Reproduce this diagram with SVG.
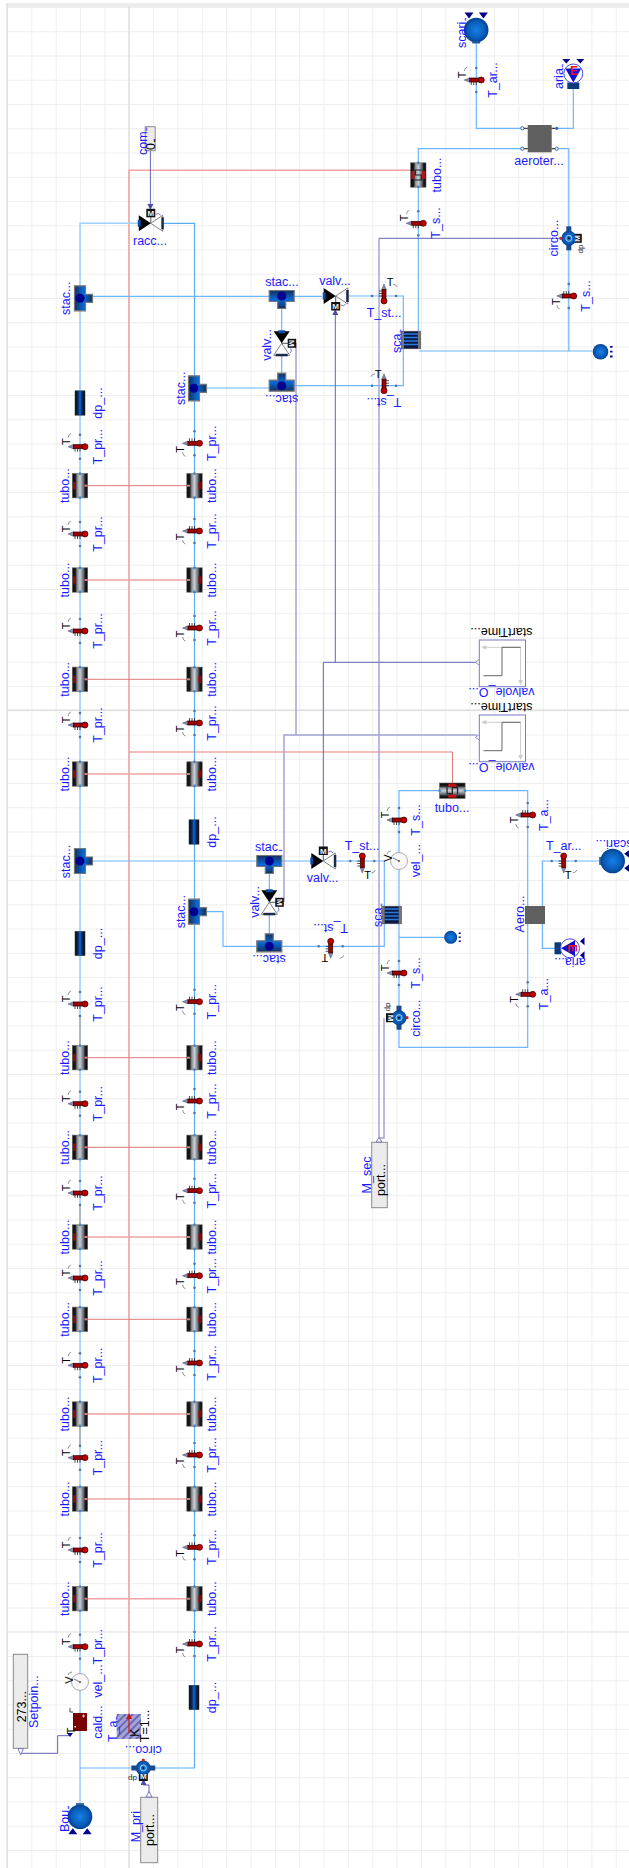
<svg xmlns="http://www.w3.org/2000/svg" width="629" height="1868" viewBox="0 0 629 1868">
<style>
text{font-family:"Liberation Sans",Arial,sans-serif;text-anchor:middle;dominant-baseline:central}
.l{font-size:12.5px;fill:#1a1aff}
.s{text-anchor:start}
.q{letter-spacing:-1.800px;font-size:10px}
.k{font-size:12.5px;fill:#000}
.t{font-size:11px;fill:#000}
.m{font-size:8px;font-weight:bold;fill:#eee}
.d{font-size:8px;fill:#223}
.w,.wl,.wr,.r,.rl,.p,.pl,.g{fill:none}
.w{stroke:#6cb6ff;stroke-width:1.2}
.wl{stroke:#a2d0ff;stroke-width:1.6}
.wr{stroke:#5aabf2;stroke-width:1.2}
.r{stroke:#e27a7a;stroke-width:1}
.rl{stroke:#f0a4a4;stroke-width:1.5}
.p{stroke:#6464b4;stroke-width:1}
.pl{stroke:#a4a4d4;stroke-width:1.5}
.g{stroke:#aaa;stroke-width:1.4}
.box{fill:#ebebeb;stroke:#8a8a8a;stroke-width:1}
</style>
<defs>
<pattern id="grid" patternUnits="userSpaceOnUse" x="7" y="7" width="24.35" height="24.25"><rect width="1" height="24.25" fill="#eeeeee"/><rect width="24.35" height="1" fill="#eeeeee"/></pattern>
<pattern id="hatch" patternUnits="userSpaceOnUse" width="5" height="5" patternTransform="rotate(45)"><rect width="5" height="5" fill="#a4a4d8"/><rect width="2" height="5" fill="#6a6ab0"/></pattern>
<linearGradient id="tg"><stop offset="0" stop-color="#0a0a0a"/><stop offset=".2" stop-color="#1a1a1a"/><stop offset=".32" stop-color="#8a9096"/><stop offset=".5" stop-color="#c8ced4"/><stop offset=".72" stop-color="#69707a"/><stop offset=".85" stop-color="#1a1a1a"/><stop offset="1" stop-color="#0a0a0a"/></linearGradient>
<linearGradient id="dg"><stop offset="0" stop-color="#0a0a0a"/><stop offset=".3" stop-color="#0a2a5a"/><stop offset=".5" stop-color="#0a6ae0"/><stop offset=".7" stop-color="#0a2a5a"/><stop offset="1" stop-color="#0a0a0a"/></linearGradient>
<linearGradient id="sg"><stop offset="0" stop-color="#12305a"/><stop offset=".5" stop-color="#0a6ad8"/><stop offset="1" stop-color="#12305a"/></linearGradient>
<radialGradient id="sph"><stop offset="0" stop-color="#1480e8"/><stop offset=".7" stop-color="#0a5cb8"/><stop offset="1" stop-color="#04408c"/></radialGradient>
<marker id="a" markerWidth="6" markerHeight="6" refX="5" refY="3" orient="auto"><path d="M0 0L6 3L0 6z" fill="#4a4aa8"/></marker>
<g id="thA">
<path d="M-12 -9q1 -4 3 -4" fill="none" stroke="#667" stroke-width=".7"/>
<path d="M-5 2v3M-2.500 2v3M0 2v3" stroke="#222" stroke-width=".8"/>
<path d="M-12 0L-6.500 -2.200V2.200z" fill="#8a8ab8" stroke="#445" stroke-width=".5"/>
<rect x="-6.500" y="-2" width="12" height="4" fill="#a00000" stroke="#200" stroke-width=".7"/>
<circle cx="5" r="3" fill="#c00000" stroke="#300" stroke-width=".7"/>
<circle cy="-12" r="1.300" fill="#50789c"/><circle cy="12" r="1.300" fill="#50789c"/>
</g>
<g id="thB" transform="scale(1 -1)"><use href="#thA"/></g>
<g id="tb"><rect x="-7.700" y="-12.200" width="15.400" height="24.400" fill="url(#tg)" stroke="#666" stroke-width=".6"/><circle cy="-12" r="1.400" fill="#4a86c0"/><circle cy="12" r="1.400" fill="#4a86c0"/></g>
<g id="tubeL"><use href="#tb"/><rect x="-7" y="-3.700" width="3" height="7.400" fill="#8a0a0a"/><rect x="4.500" y="-1" width="3" height="2" fill="#e27a7a"/></g>
<g id="tubeR"><use href="#tb"/><rect x="4" y="-3.700" width="3" height="7.400" fill="#8a0a0a"/><rect x="-7.500" y="-1" width="3" height="2" fill="#e27a7a"/></g>
<g id="tubeS"><use href="#tb"/><rect x="-7" y="-4" width="3" height="8" fill="#c01010"/><rect x="4" y="-4" width="3" height="8" fill="#c01010"/><path d="M3.500 -5H-3V0H3V5H-3.500" fill="none" stroke="#222" stroke-width="1.200"/></g>
<g id="dpS"><rect x="-5" y="-12.200" width="10" height="24.400" fill="url(#dg)" stroke="#333" stroke-width=".5"/></g>
<g id="st"><path d="M-5.500 -12.500H5.500V-4H12.500V4H5.500V12.500H-5.500z" fill="url(#sg)" stroke="#777" stroke-width="1.200"/><circle r="4.500" fill="#000090"/></g>
<g id="valve">
<path d="M0 0V-7" stroke="#555"/>
<polygon points="-12,-8 0,0 -12,8" fill="#000"/>
<polygon points="12,-8 0,0 12,8" fill="#fff" stroke="#666" stroke-width=".8"/>
<rect x="-13" y="-3.500" width="3" height="7" fill="#0a4aa0"/><rect x="10.500" y="-6" width="2.500" height="12" fill="#1a2a4a"/>
<rect x="-4.500" y="-14.500" width="9" height="8.500" fill="#111"/>
<path d="M5 -9q3 -2 5 1" fill="none" stroke="#7a7ac8"/>
</g>
<g id="pump">
<rect x="-12" y="-2.500" width="24" height="5" fill="#1a4a8a"/>
<rect x="-4.500" y="4" width="9" height="9" fill="#111"/>
<circle r="7.500" fill="url(#sph)"/><circle r="3" fill="none" stroke="#a8cce8"/><circle r="1" fill="#000"/>
<circle cy="-8" r="1.600" fill="#d02020"/>
</g>
<g id="vel"><circle r="8.500" fill="#f8f8f8" stroke="#999" stroke-width=".8"/><path d="M0 0L-6 -3" stroke="#555" stroke-width=".8"/><circle r="1" fill="#555"/><path d="M-12 -7q1 -3 4 -3" fill="none" stroke="#667" stroke-width=".7"/></g>
<g id="sphere"><circle r="12.300" fill="url(#sph)"/><rect x="-4" y="-13.500" width="8" height="2" fill="#2a5a9a"/><path d="M-7.200 11.500l-4.500 6h9zM7.200 11.500l-4.500 6h9z" fill="#00008b"/></g>
<g id="air"><rect x="-6" y="9" width="12" height="6.500" fill="#0a3a7a"/><circle r="9.500" fill="#fff" stroke="#4a4ae0"/><polygon points="-8,-5 8,-5 0,9" fill="#1010d0"/><path d="M-11 -14.500h8l-4 4.500zM3 -14.500h8l-4 4.500z" fill="#00008b"/></g>
<g id="hx"><rect x="-9.700" y="-8.800" width="19.400" height="17.600" fill="#0a1a44" stroke="#555" stroke-width=".6"/><path d="M-7 -6H7M-7 -2.500H7M-7 1H7M-7 4.500H7" stroke="#2a7ae0" stroke-width="1.500"/><rect x="-9.700" y="-8.800" width="2.700" height="17.600" fill="#777"/><rect x="7" y="-8.800" width="2.700" height="17.600" fill="#777"/></g>
<g id="step"><rect width="46.200" height="46.700" fill="#fff" stroke="#7a7ac8" stroke-width="1"/><path d="M41.300 7.300H4M41.300 7.300V42" fill="none" stroke="#ccc" stroke-width="1"/><path d="M2 7.300l5 -2.400v4.800zM41.300 45l-2.400 -5h4.800z" fill="#ccc"/><path d="M4.200 35.700H22.700V7.300H41.300" fill="none" stroke="#666" stroke-width="1"/><path d="M0 19.500V25L-4 22.300z" fill="#fff" stroke="#7a7ac8" stroke-width=".8"/></g>
<g id="exp"><circle r="6.500" fill="url(#sph)"/><path d="M8 -4h2M8 0h2M8 4h2" stroke="#00008b" stroke-width="1.500"/></g>
</defs>

<g id="background">
<rect x="7" y="3" width="622" height="4" fill="#ececec"/>
<rect x="7" y="7" width="622" height="1861" fill="url(#grid)"/>
<path d="M7 3V1868" stroke="#dcdcdc" stroke-width="1.200" fill="none"/>
<path d="M129 7V1868M7 710.300H629" stroke="#dedede" stroke-width="1.400" fill="none"/>
<path d="M7 1631.700H629" stroke="#ececec" stroke-width="1.400" fill="none"/>
</g>

<g id="connectors">
<path class="rl" d="M129 1733V170.300H411"/>
<path class="rl" d="M129 752H452.500"/>
<path class="r" d="M452.500 752V785"/>
<path class="r" d="M85 485.700H189M85 679.300H189M85 1057.700H189M85 1147.300H189M85 1319.300H189M85 1499H189"/>
<path class="rl" d="M85 580H189M85 774H189M85 1237H189M85 1414H189M85 1598.700H189"/>
<path class="wl" d="M138 223.300H80V1806"/>
<path class="g" d="M80 1016V1045M80 1205V1225M80 1427V1445"/>
<path class="wr" d="M163 223.300H194.500V1768H155"/>
<path class="w" d="M131 1768H80"/>
<path class="w" d="M92 296.300H322M348 296H403.300V385.700H294M206 388H269M281.700 296V385.700"/>
<path class="w" d="M93 861H311M336 861H384.300V946.300H282M207 911.700H223V946.300H257M269.300 861V946"/>
<path class="w" d="M439 790.700H399V1047.300H527.700V790.700H465M399 937.300H444M542.300 906V861H600M542.300 924V948.300H556"/>
<path class="w" d="M476.300 43V128.300H522M573.300 89V128.300H557M522 148.700H418.300V331M557 148.700H568.800V351H419M568.800 351H592"/>
<path class="pl" d="M379 238.300V1143"/>
<path class="p" d="M561.600 238.300H379"/>
<path class="pl" d="M296 343V735M477 735H284V902"/>
<path class="p" d="M477 662.300H323.300V852" marker-end="url(#a)"/>
<path class="p" d="M335.300 662.300V310" marker-end="url(#a)"/>
<path class="pl" d="M384 1018V1138H379V1143" stroke-width="1"/>
<path class="p" d="M20.700 1749V1753.300H57.700V1735.700H69"/>
<path class="p" d="M149 1797V1785H143.500V1780" marker-end="url(#a)"/>
<path class="p" d="M150.400 150.700V209" marker-end="url(#a)"/>
</g>

<g id="sensors-left">
<g id="T_pr_L1"><use href="#thA" x="80" y="446.700"/><text class="t" transform="translate(66 441.700) rotate(-90)">T</text><text class="l" transform="translate(98 446.700) rotate(-90)">T_pr...</text></g>
<g id="T_pr_L2"><use href="#thA" x="80" y="534"/><text class="t" transform="translate(66 529) rotate(-90)">T</text><text class="l" transform="translate(98 534) rotate(-90)">T_pr...</text></g>
<g id="T_pr_L3"><use href="#thA" x="80" y="631"/><text class="t" transform="translate(66 626) rotate(-90)">T</text><text class="l" transform="translate(98 631) rotate(-90)">T_pr...</text></g>
<g id="T_pr_L4"><use href="#thA" x="80" y="725"/><text class="t" transform="translate(66 720) rotate(-90)">T</text><text class="l" transform="translate(98 725) rotate(-90)">T_pr...</text></g>
<g id="T_pr_L5"><use href="#thA" x="80" y="1004"/><text class="t" transform="translate(66 999) rotate(-90)">T</text><text class="l" transform="translate(98 1004) rotate(-90)">T_pr...</text></g>
<g id="T_pr_L6"><use href="#thA" x="80" y="1103.700"/><text class="t" transform="translate(66 1098.700) rotate(-90)">T</text><text class="l" transform="translate(98 1103.700) rotate(-90)">T_pr...</text></g>
<g id="T_pr_L7"><use href="#thA" x="80" y="1193"/><text class="t" transform="translate(66 1188) rotate(-90)">T</text><text class="l" transform="translate(98 1193) rotate(-90)">T_pr...</text></g>
<g id="T_pr_L8"><use href="#thA" x="80" y="1278"/><text class="t" transform="translate(66 1273) rotate(-90)">T</text><text class="l" transform="translate(98 1278) rotate(-90)">T_pr...</text></g>
<g id="T_pr_L9"><use href="#thA" x="80" y="1365.300"/><text class="t" transform="translate(66 1360.300) rotate(-90)">T</text><text class="l" transform="translate(98 1365.300) rotate(-90)">T_pr...</text></g>
<g id="T_pr_L10"><use href="#thA" x="80" y="1457.700"/><text class="t" transform="translate(66 1452.700) rotate(-90)">T</text><text class="l" transform="translate(98 1457.700) rotate(-90)">T_pr...</text></g>
<g id="T_pr_L11"><use href="#thA" x="80" y="1550"/><text class="t" transform="translate(66 1545) rotate(-90)">T</text><text class="l" transform="translate(98 1550) rotate(-90)">T_pr...</text></g>
<g id="T_pr_L12"><use href="#thA" x="80" y="1646.700"/><text class="t" transform="translate(66 1641.700) rotate(-90)">T</text><text class="l" transform="translate(98 1646.700) rotate(-90)">T_pr...</text></g>
</g>

<g id="sensors-right">
<g id="T_pr_R1"><use href="#thB" x="194.500" y="443.300"/><text class="t" transform="translate(180 449.300) rotate(-90)">T</text><text class="l" transform="translate(211.700 443.300) rotate(-90)">T_pr...</text></g>
<g id="T_pr_R2"><use href="#thB" x="194.500" y="531"/><text class="t" transform="translate(180 537) rotate(-90)">T</text><text class="l" transform="translate(211.700 531) rotate(-90)">T_pr...</text></g>
<g id="T_pr_R3"><use href="#thB" x="194.500" y="628"/><text class="t" transform="translate(180 634) rotate(-90)">T</text><text class="l" transform="translate(211.700 628) rotate(-90)">T_pr...</text></g>
<g id="T_pr_R4"><use href="#thB" x="194.500" y="723"/><text class="t" transform="translate(180 729) rotate(-90)">T</text><text class="l" transform="translate(211.700 723) rotate(-90)">T_pr...</text></g>
<g id="T_pr_R5"><use href="#thB" x="194.500" y="1001.700"/><text class="t" transform="translate(180 1007.700) rotate(-90)">T</text><text class="l" transform="translate(211.700 1001.700) rotate(-90)">T_pr...</text></g>
<g id="T_pr_R6"><use href="#thB" x="194.500" y="1101"/><text class="t" transform="translate(180 1107) rotate(-90)">T</text><text class="l" transform="translate(211.700 1101) rotate(-90)">T_pr...</text></g>
<g id="T_pr_R7"><use href="#thB" x="194.500" y="1190.700"/><text class="t" transform="translate(180 1196.700) rotate(-90)">T</text><text class="l" transform="translate(211.700 1190.700) rotate(-90)">T_pr...</text></g>
<g id="T_pr_R8"><use href="#thB" x="194.500" y="1275.700"/><text class="t" transform="translate(180 1281.700) rotate(-90)">T</text><text class="l" transform="translate(211.700 1275.700) rotate(-90)">T_pr...</text></g>
<g id="T_pr_R9"><use href="#thB" x="194.500" y="1363"/><text class="t" transform="translate(180 1369) rotate(-90)">T</text><text class="l" transform="translate(211.700 1363) rotate(-90)">T_pr...</text></g>
<g id="T_pr_R10"><use href="#thB" x="194.500" y="1455"/><text class="t" transform="translate(180 1461) rotate(-90)">T</text><text class="l" transform="translate(211.700 1455) rotate(-90)">T_pr...</text></g>
<g id="T_pr_R11"><use href="#thB" x="194.500" y="1547.300"/><text class="t" transform="translate(180 1553.300) rotate(-90)">T</text><text class="l" transform="translate(211.700 1547.300) rotate(-90)">T_pr...</text></g>
<g id="T_pr_R12"><use href="#thB" x="194.500" y="1644"/><text class="t" transform="translate(180 1650) rotate(-90)">T</text><text class="l" transform="translate(211.700 1644) rotate(-90)">T_pr...</text></g>
</g>

<g id="tubes">
<g id="tubo_L1"><use href="#tubeL" x="80" y="485.700"/><text class="l" transform="translate(65 485.700) rotate(-90)">tubo...</text></g>
<g id="tubo_R1"><use href="#tubeR" x="194.500" y="485.700"/><text class="l" transform="translate(211.700 485.700) rotate(-90)">tubo...</text></g>
<g id="tubo_L2"><use href="#tubeL" x="80" y="580"/><text class="l" transform="translate(65 580) rotate(-90)">tubo...</text></g>
<g id="tubo_R2"><use href="#tubeR" x="194.500" y="580"/><text class="l" transform="translate(211.700 580) rotate(-90)">tubo...</text></g>
<g id="tubo_L3"><use href="#tubeL" x="80" y="679.300"/><text class="l" transform="translate(65 679.300) rotate(-90)">tubo...</text></g>
<g id="tubo_R3"><use href="#tubeR" x="194.500" y="679.300"/><text class="l" transform="translate(211.700 679.300) rotate(-90)">tubo...</text></g>
<g id="tubo_L4"><use href="#tubeL" x="80" y="774"/><text class="l" transform="translate(65 774) rotate(-90)">tubo...</text></g>
<g id="tubo_R4"><use href="#tubeR" x="194.500" y="774"/><text class="l" transform="translate(211.700 774) rotate(-90)">tubo...</text></g>
<g id="tubo_L5"><use href="#tubeL" x="80" y="1057.700"/><text class="l" transform="translate(65 1057.700) rotate(-90)">tubo...</text></g>
<g id="tubo_R5"><use href="#tubeR" x="194.500" y="1057.700"/><text class="l" transform="translate(211.700 1057.700) rotate(-90)">tubo...</text></g>
<g id="tubo_L6"><use href="#tubeL" x="80" y="1147.300"/><text class="l" transform="translate(65 1147.300) rotate(-90)">tubo...</text></g>
<g id="tubo_R6"><use href="#tubeR" x="194.500" y="1147.300"/><text class="l" transform="translate(211.700 1147.300) rotate(-90)">tubo...</text></g>
<g id="tubo_L7"><use href="#tubeL" x="80" y="1237"/><text class="l" transform="translate(65 1237) rotate(-90)">tubo...</text></g>
<g id="tubo_R7"><use href="#tubeR" x="194.500" y="1237"/><text class="l" transform="translate(211.700 1237) rotate(-90)">tubo...</text></g>
<g id="tubo_L8"><use href="#tubeL" x="80" y="1319.300"/><text class="l" transform="translate(65 1319.300) rotate(-90)">tubo...</text></g>
<g id="tubo_R8"><use href="#tubeR" x="194.500" y="1319.300"/><text class="l" transform="translate(211.700 1319.300) rotate(-90)">tubo...</text></g>
<g id="tubo_L9"><use href="#tubeL" x="80" y="1414"/><text class="l" transform="translate(65 1414) rotate(-90)">tubo...</text></g>
<g id="tubo_R9"><use href="#tubeR" x="194.500" y="1414"/><text class="l" transform="translate(211.700 1414) rotate(-90)">tubo...</text></g>
<g id="tubo_L10"><use href="#tubeL" x="80" y="1499"/><text class="l" transform="translate(65 1499) rotate(-90)">tubo...</text></g>
<g id="tubo_R10"><use href="#tubeR" x="194.500" y="1499"/><text class="l" transform="translate(211.700 1499) rotate(-90)">tubo...</text></g>
<g id="tubo_L11"><use href="#tubeL" x="80" y="1598.700"/><text class="l" transform="translate(65 1598.700) rotate(-90)">tubo...</text></g>
<g id="tubo_R11"><use href="#tubeR" x="194.500" y="1598.700"/><text class="l" transform="translate(211.700 1598.700) rotate(-90)">tubo...</text></g>
</g>

<g id="dp_1"><use href="#dpS" x="80" y="403"/><text class="l" transform="translate(98 403) rotate(-90)">dp_...</text></g>
<g id="dp_2"><use href="#dpS" x="194" y="832"/><text class="l" transform="translate(212 832) rotate(-90)">dp_...</text></g>
<g id="dp_3"><use href="#dpS" x="80" y="943.500"/><text class="l" transform="translate(98 943.500) rotate(-90)">dp_...</text></g>
<g id="dp_4"><use href="#dpS" x="194" y="1697.500"/><text class="l" transform="translate(212 1697.500) rotate(-90)">dp_...</text></g>

<g id="stac_1"><use href="#st" x="80" y="298.300"/><text class="l" transform="translate(66 298.300) rotate(-90)">stac...</text></g>
<g id="stac_2"><use href="#st" x="194" y="388.300"/><text class="l" transform="translate(181 388.300) rotate(-90)">stac...</text></g>
<g id="stac_3"><use href="#st" transform="translate(281.700 296) rotate(90)"/><text class="l" x="282" y="282">stac...</text></g>
<g id="stac_4"><use href="#st" transform="translate(281.700 385.700) rotate(-90)"/><text class="l" transform="translate(281.700 399) rotate(180)">stac...</text></g>
<g id="stac_5"><use href="#st" x="80" y="861"/><text class="l" transform="translate(66 861.500) rotate(-90)">stac...</text></g>
<g id="stac_6"><use href="#st" x="194" y="911.700"/><text class="l" transform="translate(181 911.700) rotate(-90)">stac...</text></g>
<g id="stac_7"><use href="#st" transform="translate(269.300 861) rotate(90)"/><text class="l" x="268" y="847">stac<tspan class="q">...</tspan></text></g>
<g id="stac_8"><use href="#st" transform="translate(269.300 946.300) rotate(-90)"/><text class="l" transform="translate(269 959) rotate(180)">stac...</text></g>

<g id="racc"><use href="#valve" x="150.800" y="223.300"/><text class="m" x="150.800" y="213.300">M</text><text class="l" x="150" y="241">racc...</text></g>
<g id="valv_1"><use href="#valve" transform="translate(335.700 296) scale(1 -1)"/><text class="m" x="335.700" y="306">M</text><text class="l" x="335" y="280.700">valv...</text></g>
<g id="valv_2"><use href="#valve" transform="translate(281.700 343.300) rotate(90)"/><text class="m" transform="translate(291.700 343.300) rotate(90)">M</text><text class="l" transform="translate(266.700 345) rotate(-90)">valv...</text></g>
<g id="valv_3"><use href="#valve" x="323.300" y="861"/><text class="m" x="323.300" y="851">M</text><text class="l" x="322.700" y="878">valv...</text></g>
<g id="valv_4"><use href="#valve" transform="translate(269.300 902.300) rotate(90)"/><text class="m" transform="translate(279.300 902.300) rotate(90)">M</text><text class="l" transform="translate(255 902) rotate(-90)">valv...</text></g>

<g id="T_st_1"><use href="#thA" transform="translate(384 296) rotate(90)"/><text class="t" x="390" y="282">T</text><text class="l" x="384" y="312.700">T_st...</text></g>
<g id="T_st_2"><use href="#thB" transform="translate(384 385.700) rotate(90)"/><text class="t" x="378" y="374">T</text><text class="l" transform="translate(384 401.700) rotate(180)">T_st...</text></g>
<g id="T_st_3"><use href="#thB" transform="translate(362.300 861) rotate(-90)"/><text class="t" x="367.700" y="875">T</text><text class="l" x="362" y="846">T_st...</text></g>
<g id="T_st_4"><use href="#thB" transform="translate(330.700 946.300) rotate(-90)"/><text class="t" transform="translate(325 958) rotate(180)">T</text><text class="l" transform="translate(330.700 928) rotate(180)">T_st...</text></g>
<g id="T_s_1"><use href="#thA" x="418.300" y="223.300"/><text class="t" transform="translate(404 218) rotate(-90)">T</text><text class="l" transform="translate(436 223) rotate(-90)">T_s...</text></g>
<g id="T_s_2"><use href="#thB" x="568.800" y="296"/><text class="t" transform="translate(555.500 301.700) rotate(-90)">T</text><text class="l" transform="translate(585.600 296) rotate(-90)">T_s...</text></g>
<g id="T_s_3"><use href="#thA" x="399" y="820"/><text class="t" transform="translate(385 815) rotate(-90)">T</text><text class="l" transform="translate(416 820) rotate(-90)">T_s...</text></g>
<g id="T_s_4"><use href="#thA" x="399" y="973"/><text class="t" transform="translate(385 968) rotate(-90)">T</text><text class="l" transform="translate(416 973) rotate(-90)">T_s...</text></g>
<g id="T_a_1"><use href="#thB" x="527.700" y="815"/><text class="t" transform="translate(514 820) rotate(-90)">T</text><text class="l" transform="translate(544 815) rotate(-90)">T_a...</text></g>
<g id="T_a_2"><use href="#thB" x="527.700" y="994.300"/><text class="t" transform="translate(514 999.300) rotate(-90)">T</text><text class="l" transform="translate(544 994) rotate(-90)">T_a...</text></g>
<g id="T_ar_1"><use href="#thA" x="476.300" y="80"/><text class="t" transform="translate(461.700 75) rotate(-90)">T</text><text class="l" transform="translate(493.300 80) rotate(-90)">T_ar...</text></g>
<g id="T_ar_2"><use href="#thB" transform="translate(563.700 861) rotate(-90)"/><text class="t" x="568" y="875">T</text><text class="l" x="563.700" y="846">T_ar...</text></g>

<g id="sca_1"><use href="#hx" x="411" y="340"/><text class="l s" transform="translate(396.700 353) rotate(-90)">sca<tspan class="q">...</tspan></text></g>
<g id="sca_2"><use href="#hx" x="391.700" y="915"/><text class="l s" transform="translate(377.700 927) rotate(-90)">sca<tspan class="q">...</tspan></text></g>

<g id="circo_1"><use href="#pump" transform="translate(568.800 238.300) rotate(-90)"/><text class="m" transform="translate(577.500 238.300) rotate(-90)">M</text><text class="d" transform="translate(580 249) rotate(-90)">dp</text><text class="l" transform="translate(553.500 238) rotate(-90)">circo...</text></g>
<g id="circo_2"><use href="#pump" transform="translate(399 1017.700) rotate(90)"/><text class="m" transform="translate(390.500 1018) rotate(90)">M</text><text class="d" transform="translate(388 1007) rotate(90)">dp</text><text class="l" transform="translate(416 1018.300) rotate(-90)">circo...</text></g>
<g id="circo_3"><use href="#pump" x="143.300" y="1768"/><text class="m" x="143.300" y="1776.500">M</text><text class="d" transform="translate(132.500 1778) rotate(180)">dp</text><text class="l" transform="translate(143.300 1750) rotate(180)">circo...</text></g>

<g id="vel_1"><use href="#vel" x="399" y="861"/><text class="t" transform="translate(388 858) rotate(-90)">V</text><text class="l" transform="translate(416 860.700) rotate(-90)">vel_...</text></g>
<g id="vel_2"><use href="#vel" x="80" y="1682"/><text class="t" transform="translate(68.500 1680) rotate(-90)">V</text><text class="l" transform="translate(98 1681) rotate(-90)">vel_...</text></g>

<g id="scari_1"><use href="#sphere" transform="translate(476.200 30) rotate(180)"/><text class="l s" transform="translate(461.700 48) rotate(-90)">scari<tspan class="q">...</tspan></text></g>
<g id="scari_2"><use href="#sphere" transform="translate(612.700 861) rotate(-90)"/><text class="l" transform="translate(614 844) rotate(180)">scari...</text></g>
<g id="Bou"><use href="#sphere" x="80" y="1816.700"/><text class="l s" transform="translate(65 1832) rotate(-90)">Bou<tspan class="q">...</tspan></text></g>
<g id="aria_1"><use href="#air" x="573.300" y="73.500"/><text x="574" y="71" style="font-size:12px;font-weight:bold;fill:#e01030">E</text><text class="l s" transform="translate(559.300 89) rotate(-90)">aria<tspan class="q">...</tspan></text></g>
<g id="aria_2"><use href="#air" transform="translate(570 948.300) rotate(90)"/><text transform="translate(572 948.300) rotate(90)" style="font-size:12px;font-weight:bold;fill:#e01030">E</text><text class="l" transform="translate(570 962) rotate(180)">aria...</text></g>
<g id="exp_1"><use href="#exp" transform="translate(600.500 351.700) scale(1.200)"/></g>
<g id="exp_2"><use href="#exp" x="450.700" y="937.300"/></g>

<g id="aeroter"><rect x="527.700" y="125" width="24" height="27.300" fill="#5f5f5f"/><path d="M524 128.300H527.700M524 148.700H527.700M551.700 128.300H555M551.700 148.700H555" stroke="#111"/><circle cx="522.300" cy="128.300" r="1.600" fill="#fff" stroke="#2a6ab0"/><circle cx="522.300" cy="148.700" r="1.600" fill="#fff" stroke="#2a6ab0"/><circle cx="556.700" cy="128.300" r="1.600" fill="#2a6ab0"/><circle cx="556.700" cy="148.700" r="1.600" fill="#fff" stroke="#2a6ab0"/><text class="l" x="539" y="161">aeroter...</text></g>
<g id="Aero"><rect x="525" y="906" width="20" height="18" fill="#5f5f5f"/><text class="l" transform="translate(520 914) rotate(-90)">Aero...</text></g>

<g id="tubo_top"><use href="#tubeS" x="418.300" y="175"/><text class="l" transform="translate(436.700 175) rotate(-90)">tubo...</text></g>
<g id="tubo_sec"><use href="#tubeS" transform="translate(452.300 790.700) rotate(90) scale(1 1.050)"/><text class="l" x="452" y="808">tubo...</text></g>

<g id="com"><rect class="box" x="145.200" y="126.700" width="10" height="24"/><text class="k s" transform="translate(150.500 150) rotate(-90)">0<tspan class="q">...</tspan></text><text class="l s" transform="translate(143 155) rotate(-90)">com<tspan class="q">...</tspan></text></g>

<g id="valvole_1"><use href="#step" x="479.300" y="640"/><text class="k" transform="translate(501.400 631.700) rotate(180)">startTime...</text><text class="l" transform="translate(501.400 692.300) rotate(180)">valvole_O...</text></g>
<g id="valvole_2"><use href="#step" x="479.300" y="715"/><text class="k" transform="translate(501.400 706.700) rotate(180)">startTime...</text><text class="l" transform="translate(501.400 767.300) rotate(180)">valvole_O...</text></g>

<g id="port_sec"><rect class="box" x="371.700" y="1142.300" width="15.600" height="65.400" stroke-width="1.500"/><path d="M376 1142L379 1137.500L382 1142z" fill="#fff" stroke="#7a7ac8"/><text class="k" transform="translate(381 1180) rotate(-90)">port...</text><text class="l" transform="translate(366.700 1175) rotate(-90)">M_sec</text></g>
<g id="port_pri"><rect class="box" x="140.700" y="1797.300" width="17" height="65.400"/><path d="M146 1797L149 1791.500L152 1797z" fill="#fff" stroke="#7a7ac8"/><text class="k" transform="translate(150 1830) rotate(-90)">port...</text><text class="l" transform="translate(136 1826.700) rotate(-90)">M_pri</text></g>
<g id="setpoint"><rect class="box" x="13.300" y="1654.300" width="14.400" height="94"/><path d="M18 1748.500L20.700 1755L23.500 1748.500z" fill="#fff" stroke="#7a7ac8"/><text class="k" transform="translate(21.700 1706.700) rotate(-90)">273...</text><text class="l" transform="translate(34 1701.700) rotate(-90)">Setpoin...</text></g>

<g id="cald"><rect x="73" y="1713" width="14" height="18" fill="#7a0000"/><path d="M82 1716h3M83.500 1714.500v3" stroke="#eee" stroke-width=".8"/><rect x="74.500" y="1726" width="1.500" height="1.500" fill="#fff"/><path d="M70 1708v4h3" fill="none" stroke="#445"/><path d="M67 1733l3 4 3 -4z" fill="#00008b"/><text class="t" transform="translate(70.500 1731) rotate(-90)">T</text><text class="l" transform="translate(98 1722) rotate(-90)">cald...</text></g>

<g id="T_a"><rect x="116.700" y="1714" width="24.300" height="25" fill="url(#hatch)"/><path d="M129 1733V1719" stroke="#d01010" stroke-width="1.200"/><path d="M129 1713l-3 6h6z" fill="#d01010"/><text class="t" transform="translate(135 1732.700) rotate(-90)" style="font-size:12px">K</text><text class="l s" transform="translate(113 1742) rotate(-90)">T_a<tspan class="q">...</tspan></text><text class="k" transform="translate(145 1726) rotate(-90)">T=1...</text></g>
</svg>
